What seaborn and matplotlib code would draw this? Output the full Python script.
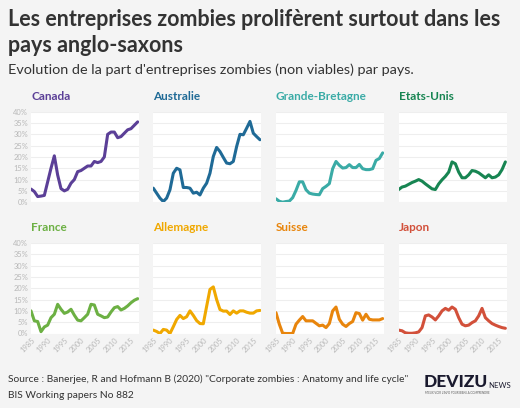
import pandas as pd
import matplotlib
matplotlib.use("Agg")
import matplotlib.pyplot as plt
import seaborn as sns

sns.set_style("white")
plt.rcParams['font.family'] = ['Lato', 'DejaVu Sans']

# Years and share of zombie firms (%) per country
annees = list(range(1985, 2018))

canada = [5.8, 4.7, 2.5, 2.7, 3.0, 9.0, 15.0, 20.5, 12.0, 6.0, 5.0, 5.7, 8.4, 10.0,
          13.5, 14.0, 15.0, 16.0, 16.0, 18.0, 17.5, 18.0, 20.0, 30.0, 31.0, 31.0,
          28.5, 29.0, 30.5, 32.0, 32.5, 34.0, 35.5]
australie = [6.2, 4.0, 1.8, 0.3, 1.8, 5.5, 12.8, 15.0, 14.3, 6.5, 6.5, 6.2, 4.0, 4.4,
             3.2, 6.2, 8.4, 12.8, 20.2, 24.2, 22.4, 19.8, 17.3, 17.0, 18.0, 24.6,
             30.0, 29.8, 32.7, 35.7, 30.5, 29.0, 27.6]
grande_bretagne = [1.5, 0.4, 0.0, 0.3, 0.5, 2.0, 5.2, 9.0, 9.0, 5.5, 4.0, 3.6, 3.4, 3.3,
                   6.0, 7.0, 8.2, 14.8, 18.0, 16.3, 15.1, 15.3, 16.6, 15.3, 15.3, 16.7,
                   14.8, 14.4, 14.4, 14.8, 18.5, 19.3, 21.8]
etats_unis = [5.6, 6.7, 7.1, 7.9, 8.7, 9.3, 10.0, 9.3, 8.1, 7.0, 5.9, 5.6, 8.1, 9.9,
              11.4, 13.3, 17.8, 17.0, 13.3, 10.8, 10.8, 12.1, 14.0, 13.7, 13.0, 11.9,
              10.8, 12.1, 10.8, 11.1, 12.1, 14.4, 17.8]
france = [10.0, 5.6, 5.3, 0.8, 2.9, 3.7, 7.0, 8.5, 12.9, 10.7, 8.9, 9.5, 10.7, 8.1,
          5.9, 5.6, 7.0, 8.5, 12.9, 12.6, 8.5, 7.8, 7.0, 7.3, 9.5, 11.4, 11.9, 10.4,
          11.1, 12.2, 13.6, 14.7, 15.4]
allemagne = [1.5, 0.9, 0.0, 1.8, 1.5, 0.0, 3.0, 6.2, 8.0, 6.6, 7.4, 10.0, 8.0, 5.7,
             4.4, 4.3, 12.0, 19.5, 20.6, 15.0, 10.6, 9.9, 9.9, 8.4, 10.0, 9.0, 10.0,
             10.0, 9.4, 9.0, 9.0, 10.0, 10.2]
suisse = [9.2, 4.1, 0.1, 0.0, 0.0, 0.0, 4.1, 5.9, 7.5, 5.6, 5.6, 5.6, 4.5, 3.4, 3.7,
          2.6, 4.4, 10.0, 11.7, 6.3, 4.1, 3.1, 4.4, 5.3, 9.2, 8.8, 5.9, 8.5, 6.3, 6.0,
          6.0, 6.0, 6.6]
japon = [1.5, 1.2, 0.3, 0.1, 0.1, 0.3, 0.7, 2.6, 7.8, 8.2, 7.3, 6.0, 7.8, 10.0, 11.1,
         10.3, 11.7, 10.7, 7.0, 4.1, 3.4, 3.7, 4.8, 5.6, 7.8, 11.1, 7.0, 5.6, 4.4, 3.7,
         3.1, 2.6, 2.3]

pays = ['Canada', 'Australie', 'Grande-Bretagne', 'Etats-Unis',
        'France', 'Allemagne', 'Suisse', 'Japon']
series = [canada, australie, grande_bretagne, etats_unis,
          france, allemagne, suisse, japon]
couleurs = ['#5b3f97', '#1f6a96', '#3aaba6', '#178552',
            '#6cb043', '#f0a800', '#e8850c', '#d2503a']

rows = []
for p, vals in zip(pays, series):
    for a, v in zip(annees, vals):
        rows.append({'pays': p, 'annee': a, 'part': v})
df = pd.DataFrame(rows)

bg = '#f4f4f4'
fig = plt.figure(figsize=(5.2, 4.08), dpi=100, facecolor=bg)

W, H = 520, 408
lefts = [31, 153.3, 276, 398.7]
tops = [111.7, 243]
pw, ph = 108, 90.5

for i, (p, c) in enumerate(zip(pays, couleurs)):
    r, k = divmod(i, 4)
    ax = fig.add_axes([lefts[k] / W, 1 - (tops[r] + ph) / H, pw / W, ph / H])
    ax.set_facecolor('white')
    sns.lineplot(data=df[df['pays'] == p], x='annee', y='part', ax=ax,
                 color=c, linewidth=2.2, solid_joinstyle='round',
                 solid_capstyle='round')
    ax.set_xlim(1985, 2017.4)
    ax.set_ylim(0, 40)
    ax.set_yticks(range(0, 41, 5))
    ax.set_xticks(range(1985, 2016, 5))
    ax.grid(axis='y', color='#eeeeee', linewidth=0.8)
    ax.set_axisbelow(True)
    for s in ax.spines.values():
        s.set_visible(False)
    ax.set_xlabel('')
    ax.set_ylabel('')
    ax.tick_params(length=0, pad=2, labelsize=5.4, labelcolor='#b8b8b8')
    if k == 0:
        ax.set_yticklabels([f'{v}%' for v in range(0, 41, 5)])
    else:
        ax.set_yticklabels([])
    if r == 1:
        ax.set_xticklabels([str(a) for a in range(1985, 2016, 5)], rotation=45,
                           ha='right', rotation_mode='anchor')
    else:
        ax.set_xticklabels([])
    ax.text(0, 1.11, p, transform=ax.transAxes, color=c, fontsize=8.5,
            fontweight='bold', va='bottom', ha='left')

# Titles
fig.text(8 / W, 1 - 20 / H, "Les entreprises zombies prolifèrent surtout dans les",
         fontsize=15.5, fontweight='bold', color='#333333', va='center')
fig.text(8 / W, 1 - 46 / H, "pays anglo-saxons",
         fontsize=15.5, fontweight='bold', color='#333333', va='center')
fig.text(8 / W, 1 - 70 / H,
         "Evolution de la part d'entreprises zombies (non viables) par pays.",
         fontsize=10.4, color='#333333', va='center')

# Source
fig.text(8 / W, 1 - 379 / H,
         'Source : Banerjee, R and Hofmann B (2020) "Corporate zombies : Anatomy and life cycle"',
         fontsize=7.4, color='#333333', va='center')
fig.text(8 / W, 1 - 395 / H, 'BIS Working papers No 882',
         fontsize=7.4, color='#333333', va='center')

# Logo
fig.text(424 / W, 1 - 382 / H, 'DEVIZU', fontsize=12.5, fontweight='black',
         color='#1a1a2e', va='center')
fig.text(488 / W, 1 - 385 / H, 'NEWS', fontsize=5.6, color='#1a1a2e', va='center')
fig.text(425 / W, 1 - 393.5 / H, 'MIEUX VOIR L\'INFO POUR BIEN LA COMPRENDRE',
         fontsize=2.0, color='#555555', va='center')

fig.savefig('out.png', dpi=100, facecolor=bg)
